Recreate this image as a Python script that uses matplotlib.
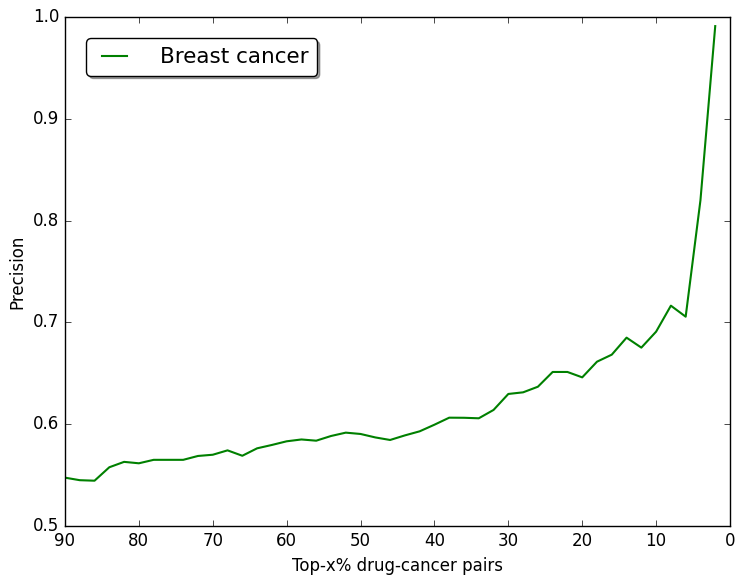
import matplotlib
matplotlib.use("Agg")
import matplotlib.pyplot as plt

plt.style.use("classic")

# top-x% thresholds and precision
top_x = [90, 88, 86, 84, 82, 80, 78, 76, 74, 72, 70, 68, 66, 64, 62, 60,
         58, 56, 54, 52, 50, 48, 46, 44, 42, 40, 38, 36, 34, 32, 30, 28,
         26, 24, 22, 20, 18, 16, 14, 12, 10, 8, 6, 4, 2]
precision = [0.5475, 0.545, 0.5445, 0.5577, 0.563, 0.5616, 0.565, 0.565,
             0.565, 0.5688, 0.570, 0.5743, 0.569, 0.5763, 0.5796, 0.5832,
             0.585, 0.5838, 0.5884, 0.5917, 0.5904, 0.587, 0.5845, 0.589,
             0.593, 0.5995, 0.6064, 0.6063, 0.6058, 0.614, 0.6297, 0.6313,
             0.6368, 0.6513, 0.6513, 0.646, 0.6614, 0.6683, 0.685, 0.6752,
             0.6909, 0.7164, 0.7056, 0.820, 0.991]

fig = plt.figure(figsize=(7.4, 5.84), dpi=100, facecolor="white")
ax = fig.add_axes([0.0878, 0.0993, 0.8987, 0.8717])

ax.plot(top_x, precision, color="g", linewidth=1.5, label="Breast cancer")
ax.set_xlim(90, 0)
ax.set_ylim(0.5, 1.0)
ax.set_xlabel("Top-x% drug-cancer pairs", fontsize=12)
ax.set_ylabel("Precision", fontsize=12)
ax.tick_params(labelsize=12)
ax.legend(loc="upper left", fancybox=True, shadow=True, fontsize=15.5,
          handlelength=1.8, handletextpad=1.2, borderpad=0.4,
          borderaxespad=1.0)

plt.savefig("out.png", dpi=100, facecolor="white")
